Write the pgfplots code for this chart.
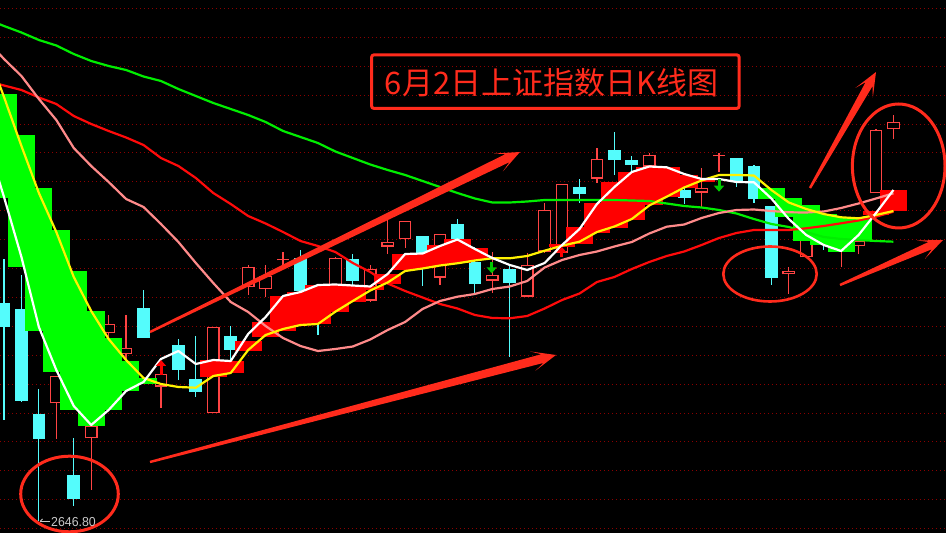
\documentclass[border=0pt]{standalone}
\usepackage{pgfplots}
\pgfplotsset{compat=1.18}
\usepackage{pgfplotstable}
\usepackage{fontspec}
\setmainfont{Liberation Sans}
\newfontfamily\cjk{Noto Sans CJK SC}
\usetikzlibrary{arrows.meta,calc}
\definecolor{candred}{HTML}{FF4444}
\definecolor{candcyan}{HTML}{54FCFC}
\definecolor{blkred}{HTML}{FF0000}
\definecolor{blkgreen}{HTML}{00FF00}
\definecolor{mapink}{HTML}{FF8A8A}
\definecolor{mared}{HTML}{FF0A0A}
\definecolor{magreen}{HTML}{00EE00}
\definecolor{gridred}{HTML}{8C0000}
\definecolor{annred}{HTML}{FF2B1C}
\definecolor{lblgray}{HTML}{C8C8C8}
\definecolor{siggreen}{HTML}{00C800}

% candles: index, open, high, low, close
\pgfplotstableread{
i o h l c
3 129.5 157 94 157
5 94.7 107.3 43 107.3
6 200 218 193 209
7 179 218 173 185
9 146.3 159 125 159
12 119.7 206.3 119.7 206.3
14 246 268 238 266
15 243.7 268 236 257.3
16 272.5 281 266 273.5
19 247 276 247 275
21 232.3 268 232 264
22 286.3 313 279 291
23 293.5 312 285 312
25 255.3 299 248 299
28 252.3 281 240 258
30 236.3 280 236.3 268
31 281.3 330.3 281 323
32 280.3 349 280 349
34 354.3 384.7 350.3 373.7
37 366.3 380.3 366 378
38 343 358 338 355
40 340.3 364.7 326.3 344.7
41 376.5 379.7 361.3 377.5
45 258.7 265.7 239 261.7
46 275.5 308 275.5 305
48 285 300 265.5 298
49 287 297 278.7 292
50 339.7 403.7 339.7 403
51 403.7 418 394 410.7
}\up

\pgfplotstableread{
i o h l c
0 230.3 274 113 206.3
1 224 258 131 132
2 119 144 12 94
4 58 95 27 34
8 225 243 195 195
10 188 194 153 163
11 154 197 136 141
13 197 207 173 183
17 275.3 283 241 241.5
18 233 235 198 211
20 274 279 248 252.3
24 297 297 247 280.3
26 309 314 291 293.7
27 270.5 286 240 248.5
29 264 267 176 249.7
33 345.7 354 330 339
35 383 401 358 373
36 373 377 362 368
39 343 345 329 335.3
42 374.7 374.7 346.3 350.7
43 367 368 330 334
44 327 327 248 255.3
47 305 309 283 290
}\down

% band blocks between the two short averages
\pgfplotstableread{
i lo hi
12 156.3 173
13 160 172
14 182 192.3
15 196.3 211.3
16 202 237
17 208 241.3
18 209 248
19 221.3 248.5
20 231 247
21 242.5 246.5
22 249 259
23 263 279
24 264.5 279.5
25 268 288
26 269.7 293.7
27 273 284.7
32 286.3 289
33 289 306.3
34 299.7 330.3
35 304.7 351.3
36 313 361.3
37 327.5 366.3
38 336.3 365.7
39 344.7 358
40 351 354
50 318 322.3
51 322.3 343
}\redblk

\pgfplotstableread{
i lo hi
0 335 439
1 266 398
2 202 345
3 161 303
4 123 262
5 107 222
6 123 195
7 142 172
8 149 155
44 334 345
45 316.3 334.7
46 292.3 328
47 288 319
48 281.3 315.7
49 293 316.3
}\grnblk

% moving averages: w white, y yellow, p pink, r red, g green
\pgfplotstableread{
i w y p r g
-1 393 483 493 452 514
0 336 436 474 447.5 507
1 276 387 457 443 500.5
2 206 340 434 435.5 493
3 163 301 413 429 487.5
4 127 256 385 417 479
5 108 222 367 409 472
6 123 194 351 402 467
7 142 173 334 395.5 463
8 151 155 326 388 456.5
9 174 149 309 375 452
10 182 146 291 367 444
11 169 145.3 270 355 437
12 173 157 250 340 430
13 172 160 231 329 424
14 199 183 221 317 418
15 216 198 207 309.5 411
16 237 204 195 301 402
17 241 208 187 292 396
18 248 209 182 287 390
19 248.5 221.3 184 281 381.5
20 247.5 232 186.5 270 375
21 246.5 242.5 193.5 261 368.5
22 259 250.5 203 249.5 363
23 279 262 211 242 358
24 279.5 264.5 224 235.5 352
25 287 267.5 232 229 346
26 293.5 269.7 236.3 224.5 340
27 284 272.5 239 218 334.5
28 275 274.7 244 215 330.5
29 268 274.7 246.5 214.7 330.5
30 263 277 252 217 331.5
31 270 282.3 265.5 224.5 333
32 288 287.3 273 233 333
33 304 291.3 278 239.5 333
34 329 301 281.5 251 333
35 346 306.5 286.5 256 333
36 361 314 291 264 332.5
37 366.5 327.5 299.5 271 332
38 365.7 336.3 306.3 277 329.5
39 359 345.5 308.5 281.5 327
40 354 352.5 315 288 325.5
41 354 358 320 295 323
42 351 358 323 300 319.5
43 350.7 357.5 323.5 303 314
44 334.5 343 322 303 309
45 314 330.5 320.7 303 306
46 298 324 320.5 304.7 301
47 288 319 321.5 307 296
48 282 315.7 325 309.7 294
49 298 314.7 329.5 312.5 293
50 320 318 334.5 316.3 292
51 343 322 339.7 321.3 291.3
}\ma

% signal arrows: x, base, length
\pgfplotstableread{
x y v
161 158 15
561.7 276 10.3
}\sigup
\pgfplotstableread{
x y v
491.7 271.3 -11.6
719 353.7 -12.4
}\sigdown

\pgfplotsset{
  stick/.style={draw=none, mark=none,
    error bars/y dir=plus, error bars/y explicit, error bars/error mark=none},
}

\newcommand{\bigarrow}[4]{%
  \coordinate (TA) at (axis cs:#1);
  \coordinate (TB) at (axis cs:#2);
  \coordinate (TN) at ($(TB)!14pt!(TA)$);
  \coordinate (TW) at ($(TB)!24pt!(TA)$);
  \fill[annred] ($(TA)!#3!90:(TB)$) -- ($(TN)!#4!90:(TB)$) -- ($(TW)!10pt!90:(TB)$) -- (TB)
     -- ($(TW)!10pt!-90:(TB)$) -- ($(TN)!#4!-90:(TB)$) -- ($(TA)!#3!-90:(TB)$) -- cycle;
}

\begin{document}
\begin{tikzpicture}
\begin{axis}[x=1pt, y=1pt, xmin=0, xmax=946, ymin=0, ymax=533,
  hide axis, enlargelimits=false, clip=true]
\coordinate (bbsw) at (axis cs:0,0);
\coordinate (bbne) at (axis cs:946,533);
\fill[black] (axis cs:0,0) rectangle (axis cs:946,533);
\pgfplotsinvokeforeach{0,...,18}{
  \draw[gridred, line width=1pt, dash pattern=on 1pt off 3pt] (axis cs:0,{4.3+28.9*#1}) -- (axis cs:946,{4.3+28.9*#1});
}
% up candles (hollow red)
\addplot[stick, error bars/error bar style={draw=candred, line width=1.2pt}] table[x expr=4+17.44*\thisrow{i}, y=c, y error expr=\thisrow{h}-\thisrow{c}] {\up};
\addplot[stick, error bars/error bar style={draw=candred, line width=1.2pt}] table[x expr=4+17.44*\thisrow{i}, y=l, y error expr=\thisrow{o}-\thisrow{l}] {\up};
\addplot[stick, error bars/error bar style={draw=candred, line width=12.7pt}] table[x expr=4+17.44*\thisrow{i}, y=o, y error expr=\thisrow{c}-\thisrow{o}] {\up};
\addplot[stick, error bars/error bar style={draw=black, line width=10.3pt}] table[x expr=4+17.44*\thisrow{i}, y expr=\thisrow{o}+1.2, y error expr={max(\thisrow{c}-\thisrow{o}-2.4,0)}] {\up};
% down candles (filled cyan)
\addplot[stick, error bars/error bar style={draw=candcyan, line width=1.2pt}] table[x expr=4+17.44*\thisrow{i}, y=o, y error expr=\thisrow{h}-\thisrow{o}] {\down};
\addplot[stick, error bars/error bar style={draw=candcyan, line width=1.2pt}] table[x expr=4+17.44*\thisrow{i}, y=l, y error expr=\thisrow{c}-\thisrow{l}] {\down};
\addplot[stick, error bars/error bar style={draw=candcyan, line width=12.7pt}] table[x expr=4+17.44*\thisrow{i}, y=c, y error expr=\thisrow{o}-\thisrow{c}] {\down};
% bands
\addplot[stick, error bars/error bar style={draw=blkgreen, line width=26.8pt}] table[x expr=4+17.44*\thisrow{i}, y=lo, y error expr=\thisrow{hi}-\thisrow{lo}] {\grnblk};
\addplot[stick, error bars/error bar style={draw=blkred, line width=26.8pt}] table[x expr=4+17.44*\thisrow{i}, y=lo, y error expr=\thisrow{hi}-\thisrow{lo}] {\redblk};
% moving averages
\addplot[magreen, line width=2.2pt, line join=round] table[x expr=4+17.44*\thisrow{i}, y=g] {\ma};
\addplot[mared, line width=2.2pt, line join=round] table[x expr=4+17.44*\thisrow{i}, y=r] {\ma};
\addplot[mapink, line width=2.2pt, line join=round] table[x expr=4+17.44*\thisrow{i}, y=p] {\ma};
\addplot[yellow, line width=2.2pt, line join=round] table[x expr=4+17.44*\thisrow{i}, y=y] {\ma};
\addplot[white, line width=2.2pt, line join=round] table[x expr=4+17.44*\thisrow{i}, y=w] {\ma};
% signal arrows
\addplot[blkred, line width=3pt, -{Triangle[width=10pt,length=6pt]}, quiver={u=0, v=\thisrow{v}}] table[x=x, y=y] {\sigup};
\addplot[siggreen, line width=3pt, -{Triangle[width=10pt,length=6pt]}, quiver={u=0, v=\thisrow{v}}] table[x=x, y=y] {\sigdown};
% annotations
\bigarrow{150,201}{520,381}{1.2pt}{4.5pt}
\bigarrow{150,71}{556,178}{1.2pt}{4.5pt}
\bigarrow{810,345}{876,461}{1.2pt}{4pt}
\bigarrow{840,248}{943,293}{1.2pt}{4pt}
\draw[annred, line width=3pt] (axis cs:69.5,39) ellipse [x radius=48.8pt, y radius=37.8pt];
\draw[annred, line width=2.6pt] (axis cs:770,259) ellipse [x radius=46.7pt, y radius=27.5pt];
\draw[annred, line width=3pt] (axis cs:898.7,367) ellipse [x radius=46.3pt, y radius=62pt];
\draw[annred, line width=3pt, rounded corners=2pt] (axis cs:371.7,478) rectangle (axis cs:739,424.7);
\node[text=annred, inner sep=0pt, font=\cjk\fontsize{31}{36}\selectfont] at (axis cs:551.7,450) {6月2日上证指数日K线图};
\draw[lblgray, line width=0.8pt] (axis cs:40,11.5) -- (axis cs:50,11.5);
\draw[lblgray, line width=0.8pt] (axis cs:40,11.5) -- (axis cs:42.5,14);
\node[anchor=west, text=lblgray, inner sep=0pt, xscale=0.95, font=\fontsize{13}{15}\selectfont] at (axis cs:51,11.3) {2646.80};
\end{axis}
\pgfresetboundingbox
\path[use as bounding box] (bbsw) rectangle (bbne);
\end{tikzpicture}
\end{document}
